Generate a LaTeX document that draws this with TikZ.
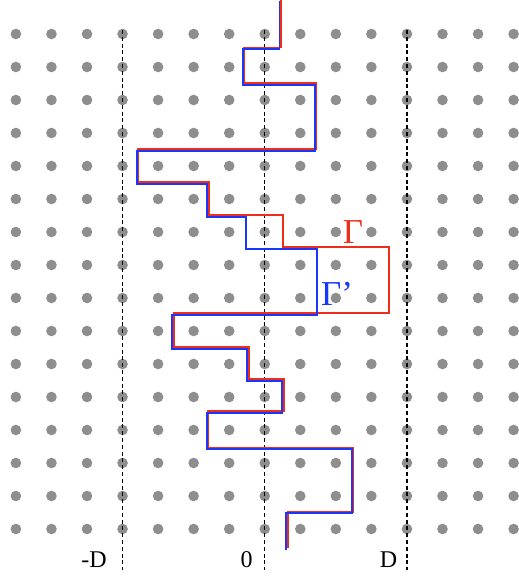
\documentclass[tikz,border=0pt]{standalone}
\usepackage{fontspec}
\setmainfont{Liberation Serif}
\definecolor{dotgray}{RGB}{142,142,142}
\definecolor{gred}{RGB}{240,45,25}
\definecolor{gblue}{RGB}{25,55,250}
\tikzset{
  dotstyle/.style={fill=dotgray, draw=none},
  axisline/.style={black, line width=1.3pt, dash pattern=on 4pt off 2.8pt},
  pathred/.style={gred, line width=1.7pt},
  pathblue/.style={gblue, line width=1.7pt},
  axlabel/.style={inner sep=0pt, anchor=base, font=\fontsize{24}{28}\selectfont},
  gammalabel/.style={inner sep=0pt, font=\fontsize{35}{40}\selectfont},
}
\begin{document}
\begin{tikzpicture}[x=1pt, y=-1pt]
\useasboundingbox (0,0) rectangle (519,579);
% dots
\foreach \i in {0,...,14}{
  \foreach \j in {0,...,15}{
    \fill[dotstyle] ({15.9+35.55*\i},{34+33*\j}) circle (5.3);
  }
}
% dashed axes
\coordinate (mDtop) at (122.5,30);
\coordinate (mDbot) at (122.5,570);
\coordinate (zTop) at (264.5,30);
\coordinate (zBot) at (264.5,570);
\coordinate (Dtop) at (406.9,30);
\coordinate (Dbot) at (406.9,570);
\draw[axisline] (mDtop) -- (mDbot);
\draw[axisline] (zTop) -- (zBot);
\draw[axisline] (Dtop) -- (Dbot);
% labels
\node[axlabel] (lmD) at (94,567) {-D};
\node[axlabel] (l0) at (246.7,567) {0};
\node[axlabel] (lD) at (388.5,567) {D};
% red path Gamma
\begin{scope}[shift={(0.8,-0.7)}]
\draw[pathred, line join=miter]
 (280.2,0) -- (280.2,48.3) -- (243.5,48.3) -- (243.5,84) -- (315.5,84) -- (315.5,150)
 -- (137.5,150) -- (137.5,183) -- (208,183) -- (208,216)
 -- (282.5,216) -- (282.5,247.5) -- (388,247.5) -- (388,314) -- (173,314)
 -- (173,348) -- (248,348) -- (248,380) -- (283,380) -- (283,412) -- (207.5,412)
 -- (207.5,448.5) -- (352.5,448.5) -- (352.5,512.5) -- (287,512.5) -- (287,549);
\end{scope}
% blue path Gamma'
\begin{scope}[shift={(-0.8,0.7)}]
\draw[pathblue, line join=miter]
 (280.2,0) -- (280.2,48.3) -- (243.5,48.3) -- (243.5,84) -- (315.5,84) -- (315.5,150)
 -- (137.5,150) -- (137.5,183) -- (208,183) -- (208,216)
 -- (246.7,216) -- (246.7,248) -- (317.7,248) -- (317.7,314) -- (173,314)
 -- (173,348) -- (248,348) -- (248,380) -- (283,380) -- (283,412) -- (207.5,412)
 -- (207.5,448.5) -- (352.5,448.5) -- (352.5,512.5) -- (287,512.5) -- (287,549);
\end{scope}
\node[gammalabel, text=gred, anchor=base] (gam) at (353,243) {Γ};
\node[gammalabel, text=gblue, anchor=base west] (gamp) at (321,305) {Γ’};
\end{tikzpicture}
\end{document}
